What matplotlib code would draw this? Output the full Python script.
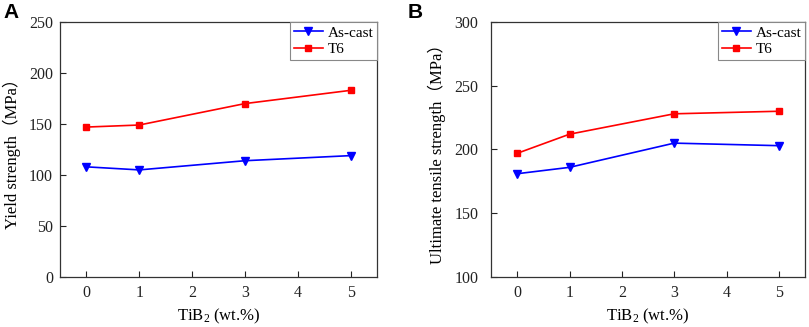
import matplotlib
matplotlib.use("Agg")
import matplotlib.pyplot as plt

x = [0, 1, 3, 5]
ys_ascast = [108, 105, 114, 119]
ys_t6 = [147, 149, 170, 183]
uts_ascast = [181, 186, 205, 203]
uts_t6 = [197, 212, 228, 230]
series_labels = ["As-cast", "T6"]
xticks = [0, 1, 2, 3, 4, 5]

serif = ["Liberation Serif", "Noto Sans CJK SC"]
plt.rcParams["font.family"] = serif
plt.rcParams["mathtext.fontset"] = "custom"
plt.rcParams["mathtext.rm"] = "Liberation Serif"
plt.rcParams["mathtext.it"] = "Liberation Serif:italic"

fig = plt.figure(figsize=(8.09, 3.27), dpi=100)
W, H = 809, 327
axA = fig.add_axes([60 / W, 1 - 277 / H, 317 / W, 255 / H])
axB = fig.add_axes([491 / W, 1 - 277 / H, 314 / W, 255 / H])

def style(ax, a, t, ylim, yticks, ylabel, ypad):
    ax.plot(x, a, color="#0000ff", marker="v", markersize=5.5, lw=1.2, label=series_labels[0])
    ax.plot(x, t, color="#ff0000", marker="s", markersize=4.5, lw=1.2, label=series_labels[1])
    ax.set_xlim(-0.5, 5.5)
    ax.set_ylim(*ylim)
    ax.set_xticks(xticks)
    ax.set_yticks(yticks)
    ax.tick_params(direction="in", length=4, width=0.8, labelsize=11.5, colors="#222222")
    ax.tick_params(axis="y", pad=ypad)
    ax.tick_params(axis="x", pad=6)
    for s in ax.spines.values():
        s.set_color("#333333")
        s.set_linewidth(0.9)
    ax.set_xlabel("TiB$\\mathrm{_2}$ (wt.%)", fontsize=12, labelpad=4)
    ax.set_ylabel(ylabel, fontsize=12, labelpad=6)
    leg = ax.legend(loc="upper right", fontsize=11, fancybox=False, framealpha=1,
                    edgecolor="#888888", borderaxespad=0, handlelength=1.9,
                    borderpad=0.25, labelspacing=0.2, handletextpad=0.3)
    leg.get_frame().set_linewidth(0.8)

style(axA, ys_ascast, ys_t6, (0, 250), [0, 50, 100, 150, 200, 250], "Yield strength（MPa）", 5)
style(axB, uts_ascast, uts_t6, (100, 300), [100, 150, 200, 250, 300], "Ultimate tensile strength（MPa）", 9)

fig.text(3 / W, 1 - 3 / H, "A", fontsize=15, fontweight="bold", family="Liberation Sans", va="top")
fig.text(408 / W, 1 - 3 / H, "B", fontsize=15, fontweight="bold", family="Liberation Sans", va="top")

fig.savefig("out.png", dpi=100)
